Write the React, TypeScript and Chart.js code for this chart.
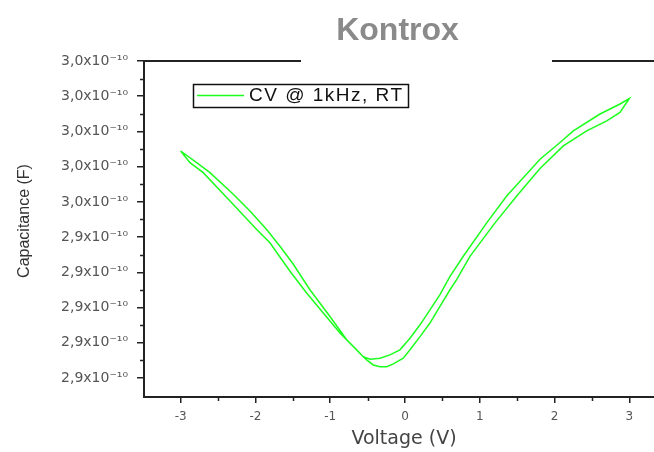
import React, { useEffect, useRef } from 'react';
import { Chart, registerables } from 'chart.js';

Chart.register(...registerables);

const chartTitle = 'Kontrox';
const xAxisTitle = 'Voltage (V)';
const yAxisTitle = 'Capacitance (F)';
const seriesLabel = 'CV @ 1kHz, RT';

// axis ticks (voltage in V, capacitance in pF)
const xTickValues = [-3, -2, -1, 0, 1, 2, 3];
const xMinorTickValues = [-2.5, -1.5, -0.5, 0.5, 1.5, 2.5];
const yTickValues = [286, 288, 290, 292, 294, 296, 298, 300, 302, 304];
const yMinorTickValues = [287, 289, 291, 293, 295, 297, 299, 301, 303];
const xRange = [-3.49, 3.33];
const yRange = [284.92, 304];

// sweep -3 V -> +3 V
const sweepUpVoltage = [
  -3.0, -2.786, -2.608, -2.296, -2.073, -1.85, -1.672, -1.5, -1.271, -1.003,
  -0.78, -0.558, -0.512, -0.424, -0.334, -0.245, -0.156, -0.023, 0.067, 0.201,
  0.334, 0.468, 0.602, 0.691, 0.869, 1.204, 1.494, 1.806, 2.117, 2.43,
  2.698, 2.875, 3.0,
];
const sweepUpCapacitance = [
  298.89, 298.23, 297.66, 296.43, 295.48, 294.43, 293.48, 292.5, 291.01, 289.49,
  288.17, 287.21, 287.03, 286.74, 286.64, 286.64, 286.8, 287.12, 287.6, 288.35,
  289.12, 290.06, 291.01, 291.58, 292.91, 294.81, 296.33, 297.9, 299.18, 300.03,
  300.6, 301.08, 301.87,
];

// sweep +3 V -> -3 V
const sweepDownVoltage = [
  3.0, 2.875, 2.608, 2.251, 2.073, 1.806, 1.36, 1.093, 0.78, 0.602,
  0.468, 0.334, 0.201, 0.067, -0.067, -0.201, -0.334, -0.468, -0.558, -0.646,
  -0.736, -0.869, -1.093, -1.315, -1.538, -1.806, -1.983, -2.34, -2.698, -2.875,
  -3.0,
];
const sweepDownCapacitance = [
  301.87, 301.56, 300.99, 300.03, 299.37, 298.42, 296.33, 294.81, 292.91, 291.77,
  290.73, 289.87, 289.02, 288.26, 287.6, 287.31, 287.12, 287.07, 287.21, 287.6,
  287.98, 288.55, 289.69, 290.83, 292.06, 293.68, 294.43, 296.05, 297.66, 298.23,
  298.89,
];

const lineColor = '#1cff1c';

const formatCap = (v: number) =>
  (v / 100).toFixed(1).replace('.', ',') + 'x10\u207B\u00B9\u2070';

const decorPlugin = {
  id: 'decor',
  afterDraw(chart: any) {
    const { ctx, chartArea } = chart;
    const xs = chart.scales.x;
    const ys = chart.scales.y;
    ctx.save();

    // title
    ctx.fillStyle = '#8a8a8a';
    ctx.font = 'bold 32px "Liberation Sans", Arial, sans-serif';
    ctx.textAlign = 'center';
    ctx.textBaseline = 'middle';
    ctx.fillText(chartTitle, 397.5, 31);

    // top frame line with gap
    ctx.strokeStyle = '#222';
    ctx.lineWidth = 2;
    ctx.beginPath();
    ctx.moveTo(chartArea.left, chartArea.top);
    ctx.lineTo(301, chartArea.top);
    ctx.moveTo(552, chartArea.top);
    ctx.lineTo(chartArea.right, chartArea.top);
    ctx.stroke();

    // minor ticks
    ctx.lineWidth = 1.5;
    ctx.beginPath();
    yMinorTickValues.forEach((v) => {
      const py = Math.round(ys.getPixelForValue(v)) + 0.5;
      ctx.moveTo(chartArea.left - 4, py);
      ctx.lineTo(chartArea.left, py);
    });
    xMinorTickValues.forEach((v) => {
      const px = Math.round(xs.getPixelForValue(v)) + 0.5;
      ctx.moveTo(px, chartArea.bottom);
      ctx.lineTo(px, chartArea.bottom + 4);
    });
    ctx.stroke();

    // axis titles
    ctx.fillStyle = '#444';
    ctx.font = '19px "DejaVu Sans", sans-serif';
    ctx.textAlign = 'center';
    ctx.textBaseline = 'middle';
    ctx.fillText(xAxisTitle, 404, 439);

    ctx.save();
    ctx.translate(25, 221);
    ctx.rotate(-Math.PI / 2);
    ctx.fillStyle = '#333';
    ctx.font = '16px "Liberation Sans", Arial, sans-serif';
    ctx.fillText(yAxisTitle, 0, 0);
    ctx.restore();

    // legend
    ctx.strokeStyle = '#111';
    ctx.lineWidth = 1.5;
    ctx.strokeRect(193.5, 84.5, 215, 23);
    ctx.strokeStyle = lineColor;
    ctx.lineWidth = 1.5;
    ctx.beginPath();
    ctx.moveTo(197, 95.5);
    ctx.lineTo(244, 95.5);
    ctx.stroke();
    ctx.fillStyle = '#111';
    ctx.font = '19px "Liberation Sans", Arial, sans-serif';
    (ctx as any).letterSpacing = '1.5px';
    ctx.textAlign = 'left';
    ctx.textBaseline = 'middle';
    ctx.fillText(seriesLabel, 249, 96);
    (ctx as any).letterSpacing = '0px';

    ctx.restore();
  },
};

export default function App() {
  const canvasRef = useRef<HTMLCanvasElement | null>(null);

  useEffect(() => {
    if (!canvasRef.current) return;
    const points = [
      ...sweepUpVoltage.map((v, i) => ({ x: v, y: sweepUpCapacitance[i] })),
      ...sweepDownVoltage.map((v, i) => ({ x: v, y: sweepDownCapacitance[i] })),
    ];
    const chart = new Chart(canvasRef.current, {
      type: 'scatter',
      data: {
        datasets: [
          {
            label: seriesLabel,
            data: points,
            showLine: true,
            borderColor: lineColor,
            backgroundColor: lineColor,
            borderWidth: 1.5,
            pointRadius: 0,
            tension: 0,
            fill: false,
          },
        ],
      },
      options: {
        animation: false,
        responsive: false,
        layout: { padding: { top: 61, right: 0, left: 0, bottom: 0 } },
        plugins: {
          legend: { display: false },
          title: { display: false },
          tooltip: { enabled: false },
        },
        scales: {
          x: {
            type: 'linear',
            min: xRange[0],
            max: xRange[1],
            afterBuildTicks: (s: any) => {
              s.ticks = xTickValues.map((v) => ({ value: v }));
            },
            afterFit: (s: any) => {
              s.height = 55;
            },
            grid: {
              drawOnChartArea: false,
              drawTicks: true,
              tickLength: 6,
              color: '#222',
              lineWidth: 1.5,
            },
            border: { display: true, color: '#222', width: 2 },
            ticks: {
              color: '#555',
              font: { family: '"DejaVu Sans", sans-serif', size: 12 },
              padding: 7,
              maxRotation: 0,
              autoSkip: false,
              callback: (v: any) => String(v),
            },
          },
          y: {
            type: 'linear',
            min: yRange[0],
            max: yRange[1],
            afterBuildTicks: (s: any) => {
              s.ticks = yTickValues.map((v) => ({ value: v }));
            },
            afterFit: (s: any) => {
              s.width = 144;
            },
            grid: {
              drawOnChartArea: false,
              drawTicks: true,
              tickLength: 7,
              color: '#222',
              lineWidth: 1.5,
            },
            border: { display: true, color: '#222', width: 2 },
            ticks: {
              color: '#555',
              font: { family: '"DejaVu Sans", sans-serif', size: 14 },
              padding: 9,
              autoSkip: false,
              callback: (v: any) => formatCap(Number(v)),
            },
          },
        },
      },
      plugins: [decorPlugin],
    });
    return () => chart.destroy();
  }, []);

  return (
    <div style={{ position: 'absolute', left: 0, top: 0, width: 654, height: 452, background: '#fff' }}>
      <canvas ref={canvasRef} width={654} height={452} />
    </div>
  );
}
